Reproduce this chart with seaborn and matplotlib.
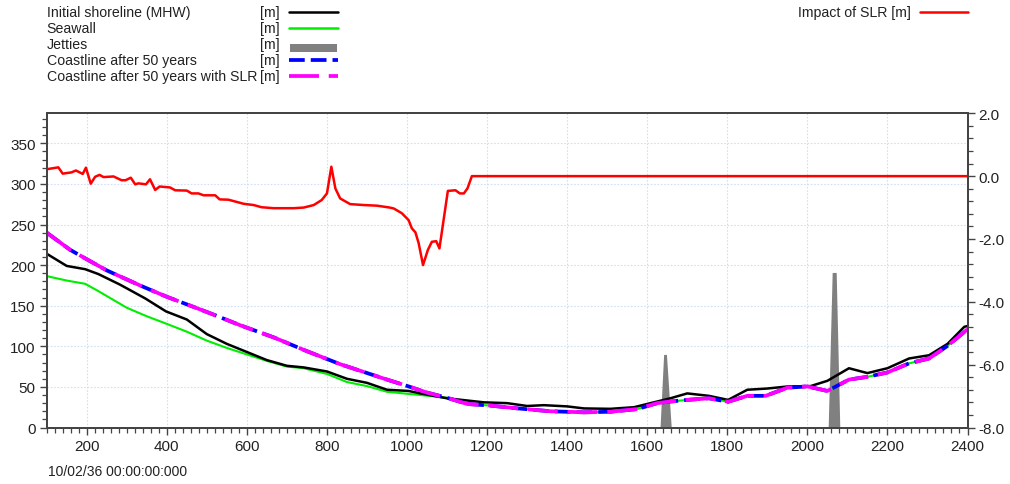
import matplotlib
matplotlib.use("Agg")
import matplotlib.pyplot as plt
import seaborn as sns
from matplotlib.lines import Line2D
from matplotlib.patches import Rectangle
from matplotlib.ticker import MultipleLocator, FormatStrFormatter

# ---------------- data ----------------
# shoreline chainage [m]
shore_x = [100, 150, 196, 229, 283, 346, 398, 450, 500, 550, 600, 650, 700, 742, 800, 850,
           900, 950, 1004, 1033, 1100, 1192, 1250, 1300, 1342, 1400, 1442, 1508, 1567, 1658,
           1700, 1754, 1802, 1850, 1900, 1950, 2008, 2050, 2104, 2150, 2200, 2254, 2304,
           2350, 2392, 2400]
shore_y = [214, 199, 195, 189, 176, 159, 143, 133, 115, 103, 93, 83, 76, 74, 69, 60,
           55, 46.5, 45, 42, 36, 31, 30, 26.5, 27.5, 26, 23.5, 23, 25, 36,
           42, 39, 34, 46.5, 48, 50.5, 51, 57.5, 73, 67, 73, 85, 89,
           103, 124, 125]

wall_x = [100, 150, 196, 229, 300, 350, 398, 450, 500, 550, 600, 650, 700, 742, 800, 850,
          900, 950, 1033, 1100, 1150, 1208, 1275, 1358, 1442, 1508, 1575, 1625, 1658, 1700,
          1754, 1802, 1850, 1896, 1950, 2000, 2050, 2104, 2150, 2200, 2254, 2304, 2350, 2400]
wall_y = [186.5, 181, 177, 168, 147.5, 137, 128, 118, 107, 98, 90, 82, 75, 73, 66, 56,
          51, 44, 40, 36.6, 29, 27, 23.6, 20, 18.7, 19.4, 22.7, 30, 32, 34,
          36, 31.7, 39, 39, 49, 50.6, 45, 59, 62.4, 67.8, 79, 85, 100.5, 121]

coast_x = [100, 158, 208, 250, 333, 400, 483, 517, 583, 667, 750, 833, 950, 1004, 1050,
           1100, 1150, 1208, 1275, 1358, 1442, 1508, 1575, 1625, 1658, 1700, 1754, 1802,
           1850, 1896, 1950, 2000, 2050, 2104, 2150, 2200, 2254, 2304, 2350, 2400]
coast_y = [240, 219, 205, 193.5, 175, 161, 145.5, 139, 126, 111, 94, 78, 59, 50.6, 43,
           36.6, 29, 27, 23.6, 20, 18.7, 19.4, 22.7, 30, 32, 34, 36, 31.7,
           39, 39, 49, 50.6, 45, 59, 62.4, 67.8, 79, 85, 100.5, 121]
coast_slr_y = [240, 219, 205, 193.5, 175, 161, 145.5, 139, 126, 111, 94, 78, 59, 50.6, 43,
               36.6, 29, 27, 23.6, 20, 18.7, 19.4, 22.7, 30, 32, 34, 36, 31.7,
               39, 39, 49, 50.6, 45, 59, 62.4, 67.8, 79, 85, 100.5, 121]

jetty_x = [1632, 1641, 1648, 1660, 2052, 2062, 2072, 2081]
jetty_y = [0, 90, 90, 0, 0, 191, 191, 0]

slr_x = [100, 129, 140, 162, 173, 190, 198, 210, 221, 232, 242, 267, 287, 297, 310, 321,
         329, 348, 358, 371, 382, 408, 421, 450, 462, 479, 492, 521, 532, 554, 592, 617,
         637, 667, 717, 742, 767, 787, 800, 811, 821, 833, 858, 892, 925, 957, 967, 987,
         1004, 1012, 1021, 1029, 1040, 1052, 1062, 1073, 1081, 1102, 1121, 1132, 1142,
         1151, 1162, 2400]
slr_y = [0.22, 0.28, 0.08, 0.12, 0.18, 0.07, 0.27, -0.24, -0.02, 0.04, -0.03, -0.01, -0.13,
         -0.13, -0.05, -0.26, -0.23, -0.26, -0.10, -0.44, -0.33, -0.36, -0.45, -0.46, -0.55,
         -0.55, -0.61, -0.61, -0.74, -0.75, -0.88, -0.92, -0.99, -1.02, -1.02, -1.0, -0.92,
         -0.76, -0.55, 0.30, -0.39, -0.71, -0.89, -0.92, -0.94, -1.0, -1.03, -1.18, -1.40,
         -1.66, -1.79, -2.13, -2.83, -2.35, -2.09, -2.07, -2.30, -0.47, -0.45, -0.55, -0.55,
         -0.39, 0.0, 0.0]

legend_labels = ["Initial shoreline (MHW)", "Seawall", "Jetties",
                 "Coastline after 50 years", "Coastline after 50 years with SLR"]
date_label = "10/02/36 00:00:00:000"

# ---------------- style ----------------
sns.set_style("ticks")
plt.rcParams["font.family"] = ["Liberation Sans", "DejaVu Sans"]
TXT = "#222222"
SPINE = "#444444"
BLUE_DASH = (0, (4.2, 1.6))
MAG_DASH = (0, (8, 2.6))

W, H = 1010, 485
fig = plt.figure(figsize=(W / 100, H / 100), dpi=100)
ax = fig.add_axes([46.7 / W, 1 - 428.5 / H, (967.5 - 46.7) / W, (428.5 - 114.3) / H])
ax2 = ax.twinx()

# ---------------- marks ----------------
ax.fill_between(jetty_x, 0, jetty_y, color="#808080", lw=0, zorder=2)
sns.lineplot(x=wall_x, y=wall_y, ax=ax, color="#00ee00", lw=1.5, estimator=None, sort=False, zorder=3)
sns.lineplot(x=shore_x, y=shore_y, ax=ax, color="black", lw=1.8, estimator=None, sort=False, zorder=4)
sns.lineplot(x=coast_x, y=coast_y, ax=ax, color="#0000ff", lw=2.7, estimator=None, sort=False, zorder=5)
ax.lines[-1].set_linestyle(BLUE_DASH)
sns.lineplot(x=coast_x, y=coast_slr_y, ax=ax, color="#ff00ff", lw=2.7, estimator=None, sort=False, zorder=6)
ax.lines[-1].set_linestyle(MAG_DASH)
sns.lineplot(x=slr_x, y=slr_y, ax=ax2, color="#ff0000", lw=1.8, estimator=None, sort=False)

# ---------------- axes ----------------
ax.set_xlim(100, 2400)
ax.set_ylim(0, 387)
ax2.set_ylim(-8, 2)
ax.xaxis.set_major_locator(MultipleLocator(200))
ax.xaxis.set_minor_locator(MultipleLocator(20))
ax.yaxis.set_major_locator(MultipleLocator(50))
ax.yaxis.set_minor_locator(MultipleLocator(10))
ax2.yaxis.set_major_locator(MultipleLocator(2))
ax2.yaxis.set_minor_locator(MultipleLocator(0.4))
ax2.yaxis.set_major_formatter(FormatStrFormatter("%.1f"))
ax.set_xlabel("")
ax.set_ylabel("")
ax2.set_ylabel("")

ax.grid(True, which="major", color="#cfe0f6", ls=(0, (1.5, 1.5)), lw=0.8)
ax2.grid(False)

for a in (ax, ax2):
    for s in a.spines.values():
        s.set_color(SPINE)
        s.set_linewidth(1.4)
    a.tick_params(which="major", direction="out", length=5, width=1, color=SPINE,
                  labelsize=11, labelcolor=TXT, pad=3)
    a.tick_params(which="minor", direction="out", length=3.5, width=0.9, color=SPINE)
ax.tick_params(axis="y", which="both", right=False)
ax2.tick_params(axis="y", which="both", left=False, right=True)
ax.tick_params(axis="x", which="both", top=False)

# ---------------- legends (drawn as figure text) ----------------
rows = [13.3, 29.3, 45.3, 61.3, 77.3]
fs = 10.2
for lab, y in zip(legend_labels, rows):
    fig.text(46.7 / W, 1 - y / H, lab, va="center", ha="left", fontsize=fs, color=TXT)
    fig.text(260 / W, 1 - y / H, "[m]", va="center", ha="left", fontsize=fs, color=TXT)

def leg_line(y, **kw):
    fig.add_artist(Line2D([289 / W, 338 / W], [1 - y / H] * 2, transform=fig.transFigure, **kw))

leg_line(rows[0], color="black", lw=1.8)
leg_line(rows[1], color="#00ee00", lw=1.8)
fig.add_artist(Rectangle((290 / W, 1 - 52.6 / H), 47 / W, 7.6 / H, transform=fig.transFigure,
                         color="#808080", lw=0))
leg_line(rows[3], color="#0000ff", lw=2.7, ls=BLUE_DASH)
leg_line(rows[4], color="#ff00ff", lw=2.7, ls=MAG_DASH)

fig.text(797.7 / W, 1 - 12.7 / H, "Impact of SLR [m]", va="center", ha="left", fontsize=fs, color=TXT)
fig.add_artist(Line2D([920 / W, 968 / W], [1 - 12.7 / H] * 2, transform=fig.transFigure,
                      color="#ff0000", lw=1.8))

fig.text(48 / W, 1 - 471.7 / H, date_label, va="center", ha="left", fontsize=10, color=TXT)

fig.savefig("out.png", dpi=100)
